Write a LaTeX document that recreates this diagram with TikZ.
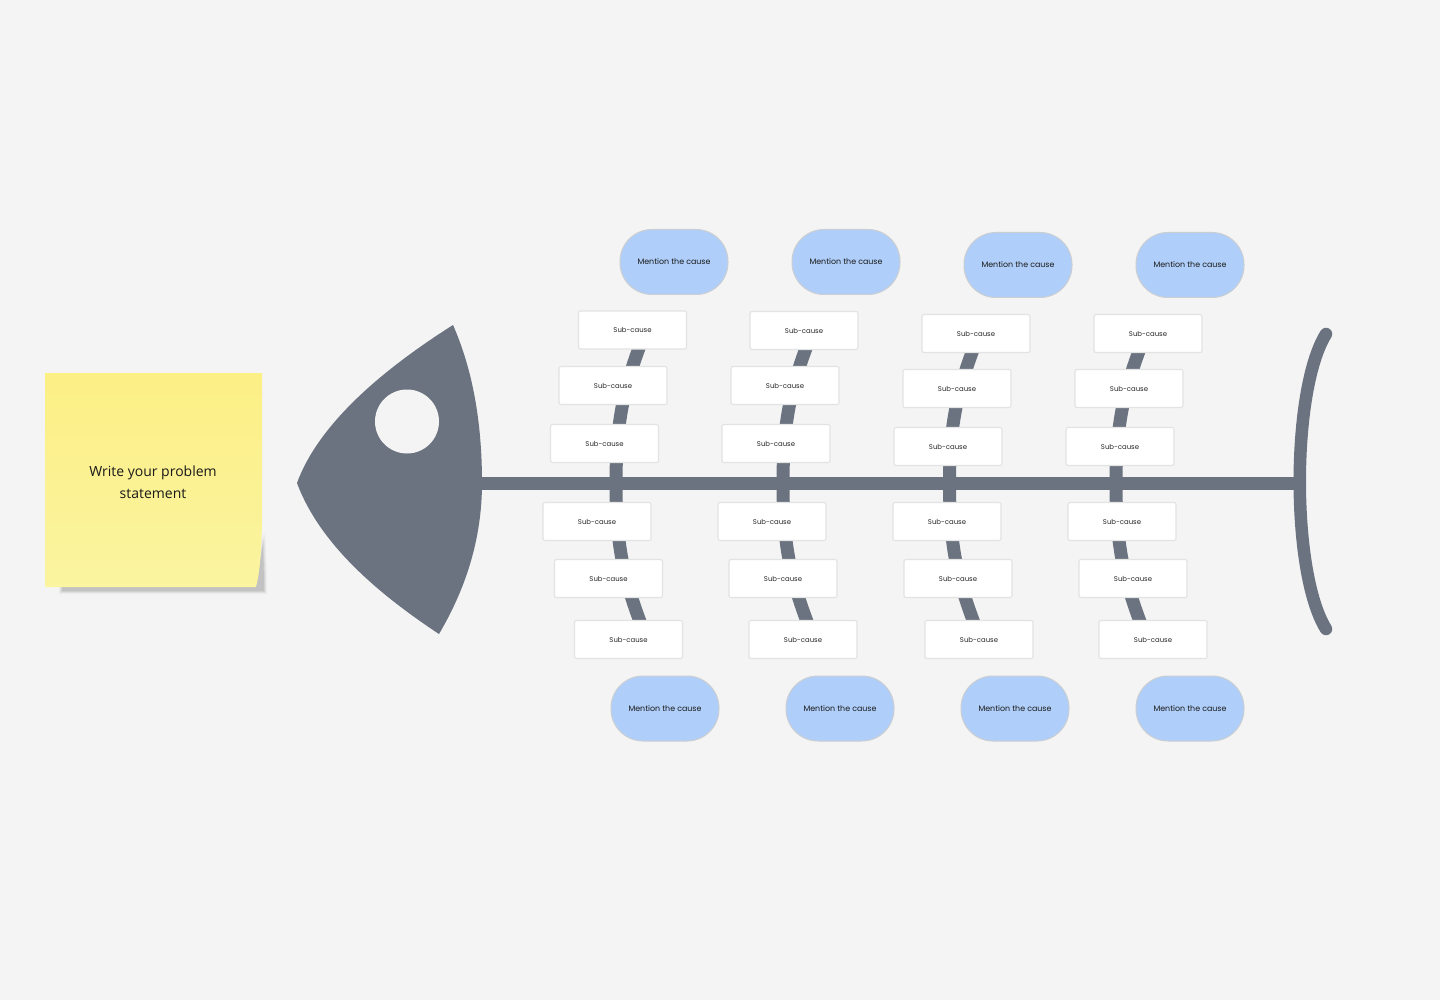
\documentclass[tikz,border=0pt]{standalone}
\usepackage{fontspec}
\newfontfamily\popfont{Poppins}
\newfontfamily\osfont{Open Sans}
\definecolor{bg}{HTML}{F3F4F3}
\definecolor{bone}{HTML}{6B7280}
\definecolor{pill}{HTML}{AFCFFA}
\definecolor{pillline}{HTML}{CBCED2}
\definecolor{boxline}{HTML}{E2E3E3}
\definecolor{stickytop}{HTML}{FCEF85}
\definecolor{stickybot}{HTML}{FBF4A0}
\begin{document}
\begin{tikzpicture}[x=1pt,y=-1pt,
  sub/.style={draw=boxline, line width=1.2pt, fill=white, rounded corners=2pt,
    minimum width=108pt, minimum height=38pt, inner sep=0pt,
    font=\popfont\fontsize{6.9}{8}\selectfont, text=black!85},
  cause/.style={draw=pillline, line width=1pt, fill=pill, rounded corners=32pt,
    minimum width=108pt, minimum height=65pt, inner sep=0pt,
    font=\popfont\fontsize{7.9}{9}\selectfont, text=black!90},
  bonestyle/.style={draw=bone, line width=13pt},
  tailstyle/.style={draw=bone, line width=12.5pt, line cap=round}]
\fill[bg] (0,0) rectangle (1440,1000);
\useasboundingbox (0,0) rectangle (1440,1000);

% sticky note shadow
\foreach \o/\a in {3/0.03,2/0.045,1/0.06,0/0.08}{
  \fill[black, opacity=\a] (62-\o,578-\o) -- (255,578-\o)
    .. controls (259,570) and (261.5,555) .. (262+\o,535-\o)
    .. controls (263.5+\o,555) and (264+\o,575) .. (264+\o,591+\o) -- (62-\o,591+\o) -- cycle;
}
% sticky note
\shade[top color=stickytop, bottom color=stickybot]
  (45,373) -- (262,373) -- (262,525) .. controls (261,560) and (259,576) .. (256,587) -- (45,587) -- cycle;
\node[font=\osfont\fontsize{14}{22}\selectfont, align=center, text=black!90] (problem) at (153,482) {Write your problem\\statement};

% head
\fill[bone] (453,325) .. controls (475,375) and (482,430) .. (482,483)
  .. controls (482,540) and (465,590) .. (439,634)
  .. controls (380,595) and (320,545) .. (297,483)
  .. controls (320,420) and (390,365) .. (453,325) -- cycle;
\fill[bg] (407,421.5) circle[radius=32pt];

% spine and tail
\coordinate (spineL) at (478,483.5);
\coordinate (spineR) at (1302,483.5);
\coordinate (tailT) at (1326,334);
\coordinate (tailB) at (1326,629);
\draw[bonestyle] (spineL) -- (spineR);
\draw[tailstyle] (tailT) .. controls (1291,390) and (1291,573) .. (tailB);

% bones
\foreach \s/\u [count=\i] in {616/0, 783/0, 949.5/3, 1116/3}{
  \coordinate (b\i) at (\s,483.5);
  \draw[bonestyle] (b\i) .. controls (\s,420+\u) and (\s+8,385+\u) .. (\s+30,330+\u);
  \draw[bonestyle] (b\i) .. controls (\s,547) and (\s+8,582) .. (\s+30,637);
}

% top causes
\node[cause] (c1) at (674,262) {Mention the cause};
\node[cause] (c2) at (846,262) {Mention the cause};
\node[cause] (c3) at (1018,265) {Mention the cause};
\node[cause] (c4) at (1190,265) {Mention the cause};
% bottom causes
\node[cause] (d1) at (665,708.5) {Mention the cause};
\node[cause] (d2) at (840,708.5) {Mention the cause};
\node[cause] (d3) at (1015,708.5) {Mention the cause};
\node[cause] (d4) at (1190,708.5) {Mention the cause};

% sub-causes, upper
\node[sub] (u11) at (632.5,330) {Sub-cause};
\node[sub] (u12) at (613,385.5) {Sub-cause};
\node[sub] (u13) at (604.5,443.5) {Sub-cause};
\node[sub] (u21) at (804,330.5) {Sub-cause};
\node[sub] (u22) at (785,385.5) {Sub-cause};
\node[sub] (u23) at (776,443.5) {Sub-cause};
\node[sub] (u31) at (976,333.5) {Sub-cause};
\node[sub] (u32) at (957,388.5) {Sub-cause};
\node[sub] (u33) at (948,446.5) {Sub-cause};
\node[sub] (u41) at (1148,333.5) {Sub-cause};
\node[sub] (u42) at (1129,388.5) {Sub-cause};
\node[sub] (u43) at (1120,446.5) {Sub-cause};
% sub-causes, lower
\node[sub] (l11) at (597,521.5) {Sub-cause};
\node[sub] (l12) at (608.5,578.5) {Sub-cause};
\node[sub] (l13) at (628.5,639.5) {Sub-cause};
\node[sub] (l21) at (772,521.5) {Sub-cause};
\node[sub] (l22) at (783,578.5) {Sub-cause};
\node[sub] (l23) at (803,639.5) {Sub-cause};
\node[sub] (l31) at (947,521.5) {Sub-cause};
\node[sub] (l32) at (958,578.5) {Sub-cause};
\node[sub] (l33) at (979,639.5) {Sub-cause};
\node[sub] (l41) at (1122,521.5) {Sub-cause};
\node[sub] (l42) at (1133,578.5) {Sub-cause};
\node[sub] (l43) at (1153,639.5) {Sub-cause};
\end{tikzpicture}
\end{document}
